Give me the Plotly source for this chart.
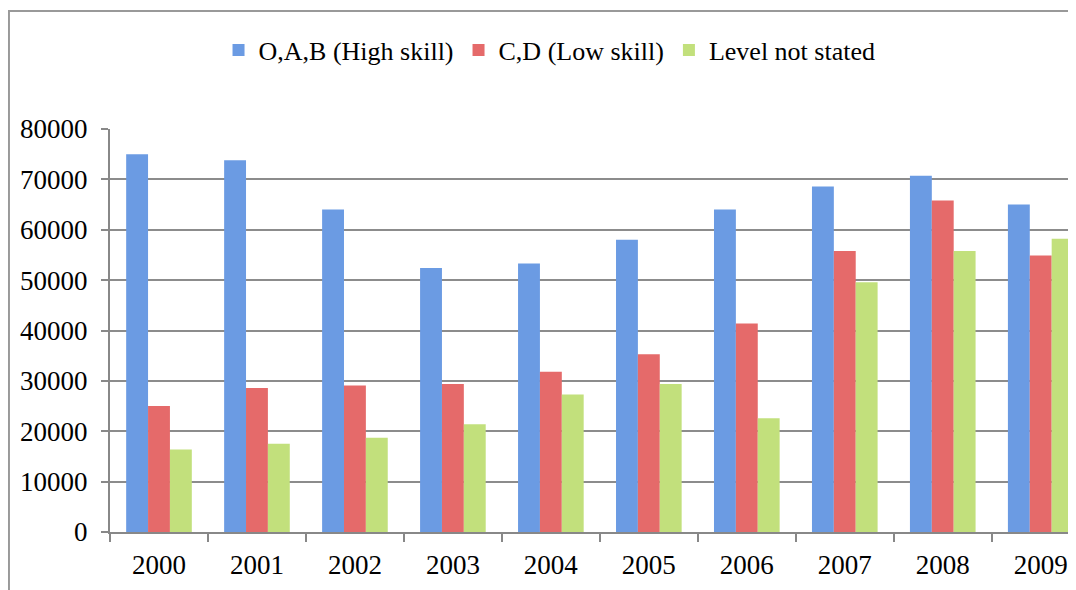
import plotly.graph_objects as go

years = ["2000", "2001", "2002", "2003", "2004", "2005", "2006", "2007", "2008", "2009"]
high_skill = [75000, 73800, 64000, 52400, 53300, 58000, 64000, 68600, 70700, 65000]
low_skill = [25000, 28600, 29100, 29400, 31800, 35300, 41400, 55800, 65800, 54900]
not_stated = [16400, 17500, 18700, 21400, 27300, 29400, 22600, 49600, 55800, 58200]
series_names = ["O,A,B (High skill)", "C,D (Low skill)", "Level not stated"]
y_ticks = [0, 10000, 20000, 30000, 40000, 50000, 60000, 70000, 80000]

colors = ["#6b9be3", "#e56a6a", "#c2e07c"]
font = "Liberation Serif"

fig = go.Figure()
for name, vals, c in zip(series_names, [high_skill, low_skill, not_stated], colors):
    fig.add_trace(go.Bar(x=years, y=vals, name=name, marker=dict(color=c, line=dict(width=0))))

fig.update_layout(
    width=1068, height=582,
    margin=dict(l=102, r=0, t=121, b=58),
    paper_bgcolor="white", plot_bgcolor="white",
    barmode="group", bargap=0.33, bargroupgap=0,
    font=dict(family=font, size=26, color="black"),
    showlegend=True,
    legend=dict(orientation="h", x=0.455, xanchor="center", y=1.196, yanchor="middle",
                font=dict(family=font, size=26), itemsizing="constant", traceorder="normal",
                bgcolor="rgba(0,0,0,0)"),
    xaxis=dict(type="category", range=[-0.5, 9.36], showline=True, linecolor="#888888", linewidth=2,
               ticks="outside", tickson="boundaries", ticklen=8, tickcolor="#888888", tickwidth=2,
               showgrid=False, ticklabelstandoff=8, tickfont=dict(family=font, size=27)),
    yaxis=dict(range=[0, 80000], tickvals=y_ticks, tickformat="d", showline=True,
               linecolor="#888888", linewidth=2,
               ticks="outside", ticklen=7, tickcolor="#888888", tickwidth=2,
               showgrid=True, gridcolor="#8c8c8c", gridwidth=2, zeroline=False,
               ticklabelstandoff=8, tickfont=dict(family=font, size=27)),
    shapes=[dict(type="rect", xref="paper", yref="paper", x0=-0.1046, x1=1.2, y0=-0.3, y1=1.2928,
                 line=dict(color="#999999", width=2), fillcolor="rgba(0,0,0,0)", layer="below")],
)

fig.write_html("out.html")
